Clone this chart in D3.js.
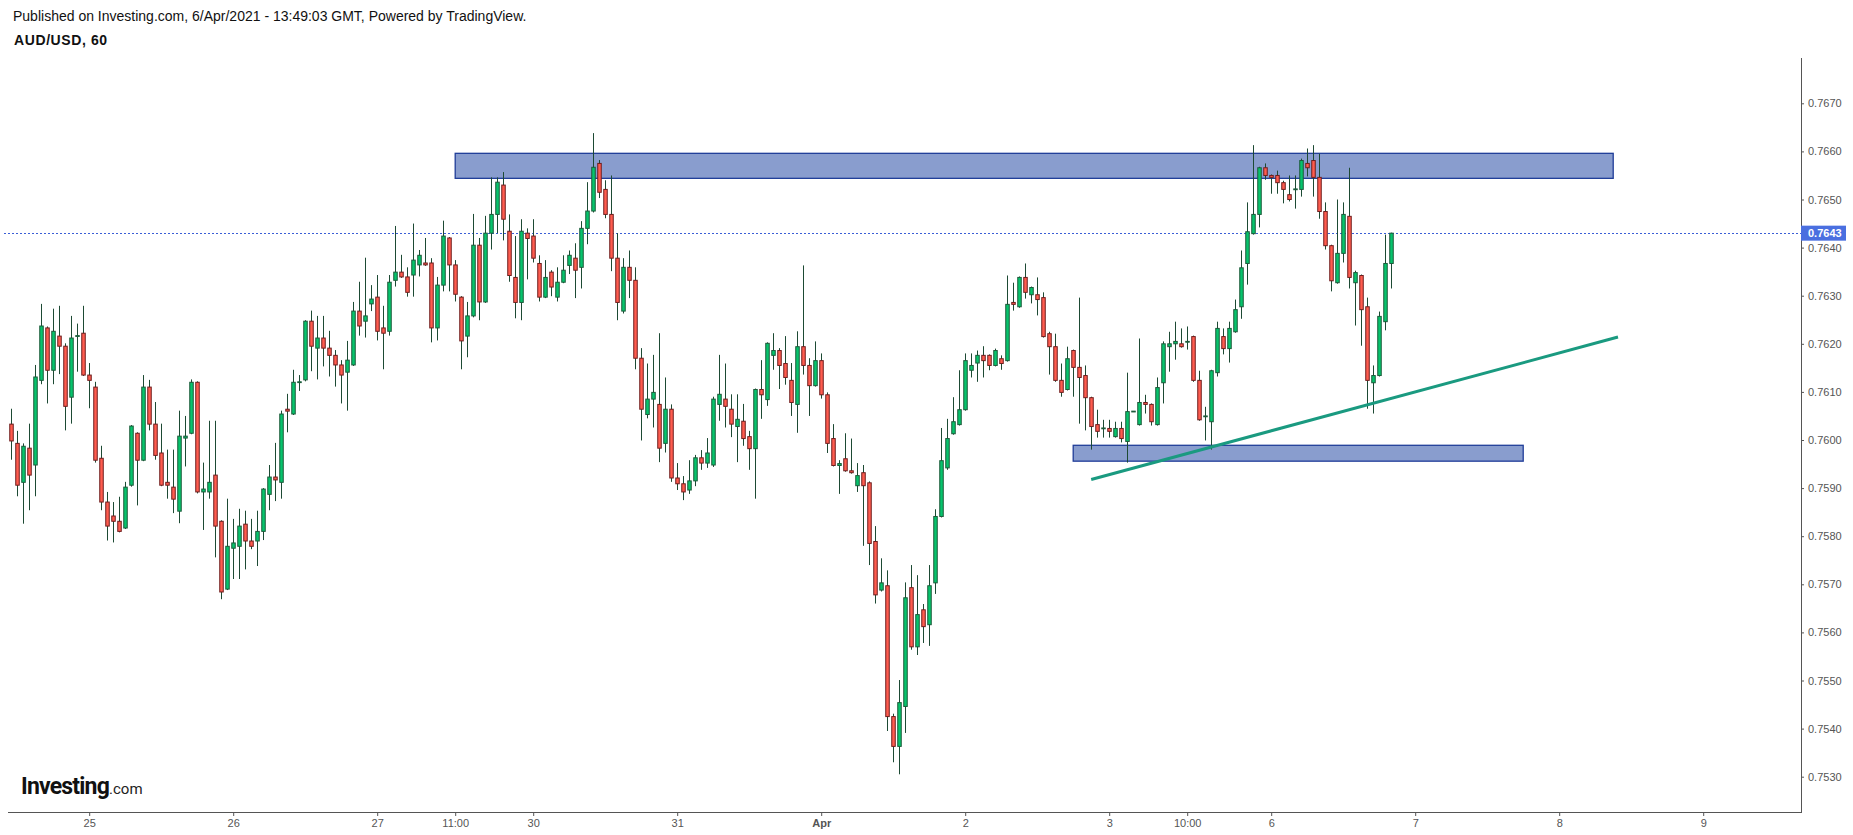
<!DOCTYPE html>
<html>
<head>
<meta charset="utf-8">
<script src="https://cdn.jsdelivr.net/npm/d3@7"></script>
<style>
  body { margin: 0; background: #fff; }
  svg { display: block; font-family: "Liberation Sans", Arial, sans-serif; }
</style>
</head>
<body>
<div chart></div>
<script>
// AUD/USD hourly candles (oldest first)
const opens = [
  0.76033, 0.75993, 0.75912, 0.75983, 0.75948, 0.76124, 0.76233, 0.76145, 0.76216, 0.76195,
  0.76089, 0.76216, 0.76222, 0.76135, 0.76110, 0.75962, 0.75871, 0.75842, 0.75831, 0.75817,
  0.75906, 0.76014, 0.75958, 0.76110, 0.76033, 0.75973, 0.75912, 0.75902, 0.75852, 0.76004,
  0.76014, 0.76120, 0.75892, 0.75892, 0.75927, 0.75831, 0.75690, 0.75775, 0.75779, 0.75825,
  0.75790, 0.75790, 0.75810, 0.75887, 0.75923, 0.75912, 0.76064, 0.76054, 0.76120, 0.76125,
  0.76247, 0.76191, 0.76212, 0.76191, 0.76176, 0.76156, 0.76141, 0.76156, 0.76268, 0.76247,
  0.76283, 0.76297, 0.76233, 0.76226, 0.76332, 0.76349, 0.76339, 0.76343, 0.76364, 0.76368,
  0.76368, 0.76233, 0.76322, 0.76420, 0.76364, 0.76297, 0.76216, 0.76258, 0.76405, 0.76287,
  0.76430, 0.76469, 0.76530, 0.76434, 0.76338, 0.76286, 0.76430, 0.76424, 0.76367, 0.76297,
  0.76349, 0.76297, 0.76328, 0.76363, 0.76378, 0.76359, 0.76440, 0.76476, 0.76575, 0.76521,
  0.76469, 0.76378, 0.76268, 0.76359, 0.76332, 0.76170, 0.76053, 0.76085, 0.76074, 0.75993,
  0.76064, 0.75921, 0.75909, 0.75896, 0.75915, 0.75963, 0.75952, 0.75948, 0.76074, 0.76085,
  0.76064, 0.76028, 0.76039, 0.76007, 0.75982, 0.76105, 0.76084, 0.76176, 0.76186, 0.76159,
  0.76124, 0.76074, 0.76194, 0.76155, 0.76113, 0.76165, 0.76094, 0.76003, 0.75947, 0.75961,
  0.75936, 0.75905, 0.75932, 0.75911, 0.75789, 0.75688, 0.75697, 0.75425, 0.75363, 0.75446,
  0.75693, 0.75570, 0.75647, 0.75616, 0.75703, 0.75841, 0.75942, 0.76013, 0.76032, 0.76063,
  0.76145, 0.76160, 0.76176, 0.76176, 0.76155, 0.76169, 0.76165, 0.76286, 0.76277, 0.76338,
  0.76302, 0.76302, 0.76296, 0.76221, 0.76194, 0.76124, 0.76105, 0.76186, 0.76151, 0.76134,
  0.76088, 0.76032, 0.76024, 0.76024, 0.76007, 0.76024, 0.75997, 0.76059, 0.76032, 0.76078,
  0.76074, 0.76032, 0.76119, 0.76194, 0.76200, 0.76200, 0.76204, 0.76215, 0.76124, 0.76049,
  0.76038, 0.76140, 0.76215, 0.76190, 0.76225, 0.76277, 0.76367, 0.76429, 0.76469, 0.76566,
  0.76550, 0.76550, 0.76535, 0.76510, 0.76521, 0.76521, 0.76575, 0.76581, 0.76546, 0.76475,
  0.76404, 0.76327, 0.76388, 0.76465, 0.76327, 0.76342, 0.76277, 0.76119, 0.76134, 0.76246,
  0.76367
];
const highs = [
  0.76065, 0.76019, 0.75993, 0.76034, 0.76156, 0.76283, 0.76236, 0.76273, 0.76279, 0.76201,
  0.76258, 0.76242, 0.76279, 0.76160, 0.76121, 0.75988, 0.75892, 0.75871, 0.75882, 0.75913,
  0.76031, 0.76016, 0.76135, 0.76125, 0.76079, 0.76034, 0.75980, 0.75980, 0.76061, 0.76050,
  0.76126, 0.76122, 0.75953, 0.76040, 0.76040, 0.75833, 0.75878, 0.75836, 0.75857, 0.75853,
  0.75836, 0.75853, 0.75900, 0.75948, 0.75994, 0.76061, 0.76096, 0.76146, 0.76135, 0.76249,
  0.76269, 0.76258, 0.76258, 0.76227, 0.76187, 0.76166, 0.76206, 0.76287, 0.76329, 0.76379,
  0.76322, 0.76343, 0.76279, 0.76343, 0.76445, 0.76385, 0.76359, 0.76450, 0.76395, 0.76420,
  0.76378, 0.76339, 0.76456, 0.76422, 0.76374, 0.76299, 0.76287, 0.76470, 0.76420, 0.76466,
  0.76546, 0.76546, 0.76557, 0.76469, 0.76424, 0.76459, 0.76440, 0.76459, 0.76384, 0.76374,
  0.76353, 0.76359, 0.76384, 0.76394, 0.76409, 0.76455, 0.76536, 0.76638, 0.76582, 0.76540,
  0.76550, 0.76430, 0.76378, 0.76394, 0.76359, 0.76191, 0.76159, 0.76177, 0.76222, 0.76130,
  0.76074, 0.75952, 0.75925, 0.75958, 0.75969, 0.75979, 0.76004, 0.76090, 0.76177, 0.76159,
  0.76095, 0.76095, 0.76075, 0.76019, 0.76107, 0.76166, 0.76203, 0.76222, 0.76191, 0.76216,
  0.76160, 0.76226, 0.76363, 0.76170, 0.76205, 0.76180, 0.76099, 0.76033, 0.75958, 0.76014,
  0.76003, 0.75952, 0.75948, 0.75914, 0.75821, 0.75754, 0.75729, 0.75431, 0.75501, 0.75704,
  0.75740, 0.75719, 0.75659, 0.75740, 0.75856, 0.76025, 0.76044, 0.76089, 0.76145, 0.76180,
  0.76180, 0.76186, 0.76195, 0.76178, 0.76190, 0.76176, 0.76342, 0.76327, 0.76340, 0.76367,
  0.76319, 0.76338, 0.76307, 0.76225, 0.76221, 0.76159, 0.76194, 0.76188, 0.76296, 0.76155,
  0.76090, 0.76063, 0.76042, 0.76042, 0.76038, 0.76038, 0.76140, 0.76060, 0.76211, 0.76094,
  0.76076, 0.76130, 0.76205, 0.76225, 0.76246, 0.76232, 0.76236, 0.76217, 0.76144, 0.76069,
  0.76146, 0.76246, 0.76232, 0.76246, 0.76292, 0.76394, 0.76494, 0.76613, 0.76568, 0.76575,
  0.76552, 0.76560, 0.76539, 0.76550, 0.76550, 0.76585, 0.76606, 0.76613, 0.76595, 0.76494,
  0.76406, 0.76500, 0.76494, 0.76566, 0.76352, 0.76344, 0.76296, 0.76155, 0.76267, 0.76427,
  0.76431
];
const lows = [
  0.75959, 0.75883, 0.75826, 0.75854, 0.75883, 0.76116, 0.76076, 0.76116, 0.76137, 0.76020,
  0.76034, 0.76142, 0.76133, 0.76066, 0.75953, 0.75854, 0.75791, 0.75787, 0.75808, 0.75815,
  0.75903, 0.75864, 0.75956, 0.76020, 0.75959, 0.75904, 0.75878, 0.75848, 0.75827, 0.75945,
  0.76012, 0.75889, 0.75813, 0.75878, 0.75756, 0.75669, 0.75688, 0.75711, 0.75711, 0.75731,
  0.75773, 0.75738, 0.75792, 0.75854, 0.75873, 0.75878, 0.76016, 0.76052, 0.76102, 0.76122,
  0.76143, 0.76126, 0.76153, 0.76132, 0.76111, 0.76076, 0.76061, 0.76154, 0.76217, 0.76213,
  0.76268, 0.76207, 0.76147, 0.76217, 0.76319, 0.76337, 0.76298, 0.76298, 0.76340, 0.76362,
  0.76203, 0.76207, 0.76309, 0.76309, 0.76288, 0.76147, 0.76172, 0.76255, 0.76249, 0.76285,
  0.76396, 0.76430, 0.76415, 0.76329, 0.76253, 0.76249, 0.76334, 0.76369, 0.76288, 0.76295,
  0.76299, 0.76288, 0.76326, 0.76345, 0.76295, 0.76315, 0.76407, 0.76473, 0.76503, 0.76461,
  0.76351, 0.76249, 0.76263, 0.76295, 0.76147, 0.75999, 0.76045, 0.76026, 0.75954, 0.75974,
  0.75913, 0.75896, 0.75875, 0.75888, 0.75904, 0.75938, 0.75942, 0.75944, 0.76040, 0.76026,
  0.76006, 0.75954, 0.75988, 0.75938, 0.75878, 0.76044, 0.76071, 0.76146, 0.76106, 0.76115,
  0.76050, 0.76015, 0.76136, 0.76050, 0.76111, 0.76086, 0.75973, 0.75945, 0.75888, 0.75934,
  0.75930, 0.75892, 0.75780, 0.75740, 0.75660, 0.75685, 0.75395, 0.75330, 0.75305, 0.75391,
  0.75564, 0.75553, 0.75578, 0.75572, 0.75680, 0.75839, 0.75938, 0.76011, 0.76030, 0.76061,
  0.76130, 0.76121, 0.76130, 0.76145, 0.76153, 0.76146, 0.76163, 0.76269, 0.76275, 0.76294,
  0.76284, 0.76259, 0.76213, 0.76136, 0.76121, 0.76090, 0.76103, 0.76090, 0.76034, 0.76020,
  0.75980, 0.76005, 0.76005, 0.76005, 0.76005, 0.75995, 0.75953, 0.76059, 0.76030, 0.76055,
  0.76030, 0.76030, 0.76076, 0.76142, 0.76167, 0.76192, 0.76188, 0.76121, 0.76040, 0.75999,
  0.75980, 0.76132, 0.76178, 0.76161, 0.76223, 0.76252, 0.76323, 0.76427, 0.76442, 0.76541,
  0.76512, 0.76512, 0.76492, 0.76496, 0.76481, 0.76506, 0.76548, 0.76506, 0.76460, 0.76396,
  0.76309, 0.76325, 0.76369, 0.76315, 0.76238, 0.76196, 0.76065, 0.76055, 0.76132, 0.76228,
  0.76315
];
const closes = [
  0.75998, 0.75906, 0.75987, 0.75927, 0.76131, 0.76237, 0.76145, 0.76226, 0.76195, 0.76070,
  0.76212, 0.76217, 0.76135, 0.76124, 0.75958, 0.75871, 0.75821, 0.75831, 0.75810, 0.75902,
  0.76029, 0.75958, 0.76110, 0.76033, 0.75968, 0.75906, 0.75906, 0.75877, 0.76008, 0.76008,
  0.76120, 0.75892, 0.75898, 0.75912, 0.75821, 0.75684, 0.75779, 0.75786, 0.75821, 0.75790,
  0.75779, 0.75810, 0.75898, 0.75923, 0.75917, 0.76054, 0.76060, 0.76120, 0.76121, 0.76247,
  0.76195, 0.76212, 0.76191, 0.76176, 0.76156, 0.76135, 0.76166, 0.76268, 0.76237, 0.76258,
  0.76293, 0.76226, 0.76222, 0.76328, 0.76349, 0.76339, 0.76307, 0.76374, 0.76384, 0.76364,
  0.76233, 0.76322, 0.76424, 0.76364, 0.76303, 0.76206, 0.76258, 0.76405, 0.76287, 0.76430,
  0.76469, 0.76536, 0.76459, 0.76342, 0.76286, 0.76434, 0.76419, 0.76378, 0.76297, 0.76338,
  0.76318, 0.76328, 0.76353, 0.76384, 0.76353, 0.76440, 0.76476, 0.76567, 0.76515, 0.76469,
  0.76378, 0.76286, 0.76359, 0.76332, 0.76170, 0.76064, 0.76085, 0.76099, 0.75983, 0.76064,
  0.75921, 0.75909, 0.75892, 0.75915, 0.75963, 0.75952, 0.75973, 0.76085, 0.76095, 0.76070,
  0.76033, 0.76043, 0.76003, 0.75982, 0.76105, 0.76094, 0.76201, 0.76186, 0.76155, 0.76130,
  0.76078, 0.76194, 0.76155, 0.76113, 0.76165, 0.76094, 0.75993, 0.75947, 0.75951, 0.75936,
  0.75932, 0.75926, 0.75905, 0.75785, 0.75678, 0.75703, 0.75425, 0.75363, 0.75454, 0.75672,
  0.75570, 0.75637, 0.75612, 0.75697, 0.75841, 0.75957, 0.76003, 0.76038, 0.76063, 0.76165,
  0.76155, 0.76176, 0.76165, 0.76155, 0.76186, 0.76159, 0.76282, 0.76282, 0.76338, 0.76307,
  0.76317, 0.76292, 0.76215, 0.76194, 0.76124, 0.76099, 0.76169, 0.76151, 0.76130, 0.76088,
  0.76028, 0.76018, 0.76025, 0.76018, 0.76024, 0.76003, 0.76059, 0.76060, 0.76078, 0.76074,
  0.76038, 0.76109, 0.76200, 0.76200, 0.76205, 0.76194, 0.76205, 0.76124, 0.76042, 0.76050,
  0.76144, 0.76232, 0.76190, 0.76232, 0.76271, 0.76358, 0.76433, 0.76469, 0.76566, 0.76550,
  0.76546, 0.76535, 0.76521, 0.76500, 0.76522, 0.76581, 0.76566, 0.76546, 0.76475, 0.76404,
  0.76331, 0.76388, 0.76469, 0.76338, 0.76348, 0.76271, 0.76124, 0.76134, 0.76257, 0.76367,
  0.76430
];

// time axis: candle index of each label
const timeTickIndex = [13, 37, 61, 74, 87, 111, 135, 159, 183, 196, 210, 234, 258, 282];
const timeTickLabels = ["25", "26", "27", "11:00", "30", "31", "Apr", "2", "3", "10:00", "6", "7", "8", "9"];
const priceTicks = [0.7530, 0.7540, 0.7550, 0.7560, 0.7570, 0.7580, 0.7590, 0.7600,
  0.7610, 0.7620, 0.7630, 0.7640, 0.7650, 0.7660, 0.7670];

// drawings: [startIndex, endIndex, lowPrice, highPrice]
const resistanceZone = [74, 267, 0.76544, 0.76596];
const supportZone = [177, 252, 0.75956, 0.75989];
// trend line: [index, price] pairs
const trendLine = [[180, 0.75918], [267.8, 0.76214]];
const lastPrice = 0.7643;

const dimensions = { width: 1853, height: 835 };

const svg = d3
  .select("[chart]")
  .append("svg")
  .attr("width", dimensions.width)
  .attr("height", dimensions.height);

const xScale = d3.scaleLinear().domain([-1.2, 298.3]).range([4, 1801]);
const yScale = d3.scaleLinear().domain([0.753, 0.767]).range([776.7, 103.3]);

const candles = opens.map((o, i) => ({
  i, open: o, high: highs[i], low: lows[i], close: closes[i],
}));

// Header texts
svg.append("text")
  .attr("x", 13).attr("y", 21)
  .attr("font-size", "14px").attr("fill", "#111")
  .text("Published on Investing.com, 6/Apr/2021 - 13:49:03 GMT, Powered by TradingView.");

svg.append("text")
  .attr("x", 14).attr("y", 45)
  .attr("font-size", "14px").attr("font-weight", "bold").attr("fill", "#111")
  .attr("letter-spacing", "0.6px")
  .text("AUD/USD, 60");

// Zones (under the candles)
[resistanceZone, supportZone].forEach((z) => {
  svg.append("rect")
    .attr("x", xScale(z[0]))
    .attr("y", yScale(z[3]))
    .attr("width", xScale(z[1]) - xScale(z[0]))
    .attr("height", yScale(z[2]) - yScale(z[3]))
    .attr("fill", "#899dce")
    .attr("stroke", "#1f3d98")
    .attr("stroke-width", 1.3);
});

// Last price dotted line
svg.append("line")
  .attr("x1", 4).attr("x2", 1801)
  .attr("y1", Math.round(yScale(lastPrice)) + 0.5)
  .attr("y2", Math.round(yScale(lastPrice)) + 0.5)
  .attr("stroke", "#3b5fd6")
  .attr("stroke-dasharray", "2,2");

// Candles
const candleGroup = svg.append("g").attr("class", "candles");

candleGroup.selectAll("line.wick")
  .data(candles)
  .enter()
  .append("line")
  .attr("class", "wick")
  .attr("x1", (d) => Math.round(xScale(d.i)) + 0.5)
  .attr("x2", (d) => Math.round(xScale(d.i)) + 0.5)
  .attr("y1", (d) => yScale(d.high))
  .attr("y2", (d) => yScale(d.low))
  .attr("stroke", "#1d4a34")
  .attr("stroke-width", 1);

candleGroup.selectAll("rect.body")
  .data(candles)
  .enter()
  .append("rect")
  .attr("class", "body")
  .attr("x", (d) => Math.round(xScale(d.i)) + 0.5 - 1.75)
  .attr("y", (d) => yScale(Math.max(d.open, d.close)))
  .attr("width", 3.5)
  .attr("height", (d) => Math.max(0.8, Math.abs(yScale(d.open) - yScale(d.close))))
  .attr("fill", (d) => (d.close >= d.open ? "#06c46c" : "#ff5c4f"))
  .attr("stroke", (d) => (d.close >= d.open ? "#1d5a3a" : "#6e1e1e"))
  .attr("stroke-width", 1);

// Trend line
svg.append("line")
  .attr("x1", xScale(trendLine[0][0])).attr("y1", yScale(trendLine[0][1]))
  .attr("x2", xScale(trendLine[1][0])).attr("y2", yScale(trendLine[1][1]))
  .attr("stroke", "#1a9a80")
  .attr("stroke-width", 3);

// Price axis (right)
const yAxis = svg.append("g")
  .attr("transform", "translate(1801,0)")
  .call(d3.axisRight(yScale).tickValues(priceTicks).tickSize(3).tickPadding(4).tickFormat(d3.format(".4f")));
yAxis.select(".domain").remove();
yAxis.selectAll("line").attr("stroke", "#555");
yAxis.selectAll("text").attr("fill", "#555").attr("font-size", "11px")
  .attr("font-family", "Liberation Sans, Arial, sans-serif");

svg.append("line")
  .attr("x1", 1801.5).attr("x2", 1801.5)
  .attr("y1", 58).attr("y2", 812)
  .attr("stroke", "#555");

// Time axis (bottom)
const xAxis = svg.append("g")
  .attr("transform", "translate(0,812)")
  .call(d3.axisBottom(xScale).tickValues(timeTickIndex).tickSize(4).tickPadding(3)
    .tickFormat((d, i) => timeTickLabels[i]));
xAxis.select(".domain").remove();
xAxis.selectAll("line").attr("stroke", "#555");
xAxis.selectAll("text").attr("fill", "#555").attr("font-size", "11px")
  .attr("font-family", "Liberation Sans, Arial, sans-serif")
  .attr("font-weight", (d, i) => (timeTickLabels[i] === "Apr" ? "bold" : "normal"));

svg.append("line")
  .attr("x1", 8).attr("x2", 1802)
  .attr("y1", 812.5).attr("y2", 812.5)
  .attr("stroke", "#555");

// Last price tag
svg.append("rect")
  .attr("x", 1801).attr("y", yScale(lastPrice) - 7.5)
  .attr("width", 45).attr("height", 15)
  .attr("fill", "#4a6fe0");
svg.append("text")
  .attr("x", 1808).attr("y", yScale(lastPrice) + 4)
  .attr("font-size", "11px").attr("font-weight", "bold").attr("fill", "#fff")
  .text(d3.format(".4f")(lastPrice));

// Investing.com logo
const logo = svg.append("text").attr("x", 21).attr("y", 794);
logo.append("tspan")
  .attr("font-size", "23px").attr("font-weight", "bold").attr("fill", "#111")
  .attr("font-family", "Liberation Sans Narrow, Arial Narrow, Roboto, sans-serif")
  .attr("letter-spacing", "-0.8px")
  .text("Investing");
logo.append("tspan")
  .attr("font-size", "15px").attr("fill", "#222")
  .attr("font-family", "Liberation Sans Narrow, Arial Narrow, Roboto, sans-serif")
  .text(".com");
</script>
</body>
</html>
